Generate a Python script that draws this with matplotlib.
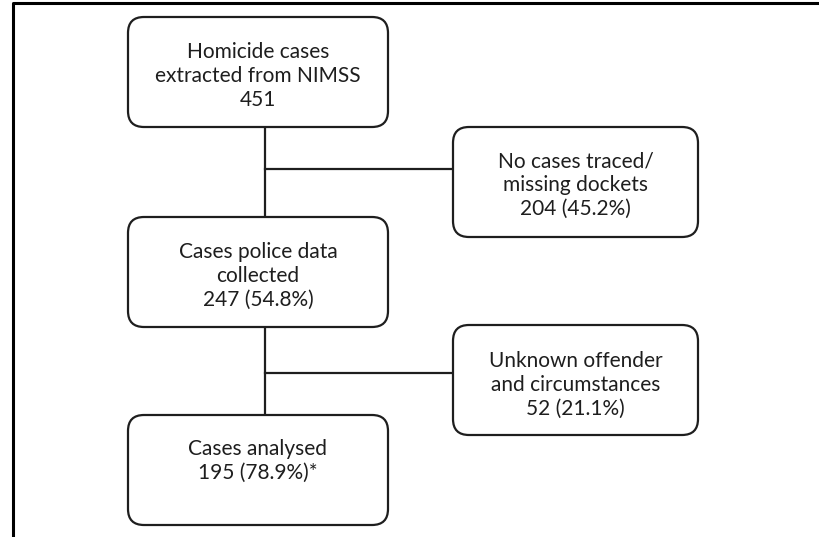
import matplotlib.pyplot as plt
from matplotlib.patches import FancyBboxPatch

# flowchart content
main_labels = ['Homicide cases\nextracted from NIMSS\n451',
               'Cases police data\ncollected\n247 (54.8%)',
               'Cases analysed\n195 (78.9%)*']
side_labels = ['No cases traced/\nmissing dockets\n204 (45.2%)',
               'Unknown offender\nand circumstances\n52 (21.1%)']

# layout in pixel coordinates (y downwards)
main_x, main_w, box_h = 128, 260, 110
main_y = [17, 217, 415]
main_text_y = [76, 276, 461]
side_x, side_w = 453, 245
side_y = [127, 325]
side_text_y = [185, 385]
branch_y = [169, 373]
spine_x = 265

col = '#1e1e1e'
fs = 15
plt.rcParams['font.family'] = ['Lato', 'DejaVu Sans']

fig = plt.figure(figsize=(8.19, 5.37), dpi=100)
ax = fig.add_axes([0, 0, 1, 1])
ax.set_xlim(0, 819)
ax.set_ylim(537, 0)
ax.axis('off')

# outer frame (only left and top visible)
ax.plot([13, 13, 830], [560, 3, 3], color='black', lw=2.2, solid_capstyle='butt')

def box(x, y, w, h):
    p = FancyBboxPatch((x, y), w, h, boxstyle='round,pad=0,rounding_size=16',
                       fc='white', ec=col, lw=1.6, zorder=3)
    ax.add_patch(p)

# spine and branches
ax.plot([spine_x, spine_x], [main_y[0] + box_h, main_y[1]], color=col, lw=1.6, zorder=1)
ax.plot([spine_x, spine_x], [main_y[1] + box_h, main_y[2]], color=col, lw=1.6, zorder=1)
for by in branch_y:
    ax.plot([spine_x, side_x], [by, by], color=col, lw=1.6, zorder=1)

for lab, y, ty in zip(main_labels, main_y, main_text_y):
    box(main_x, y, main_w, box_h)
    ax.text(main_x + main_w / 2, ty, lab, ha='center', va='center', fontsize=fs,
            color=col, linespacing=1.22, zorder=4)

for lab, y, ty in zip(side_labels, side_y, side_text_y):
    box(side_x, y, side_w, box_h)
    ax.text(side_x + side_w / 2, ty, lab, ha='center', va='center', fontsize=fs,
            color=col, linespacing=1.22, zorder=4)

fig.savefig('out.png', dpi=100)
